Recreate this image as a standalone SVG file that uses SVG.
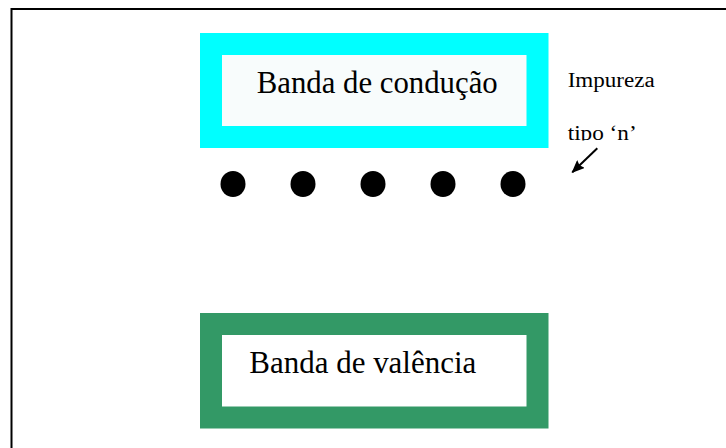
<svg xmlns="http://www.w3.org/2000/svg" width="726" height="448" viewBox="0 0 726 448">
<style>
text{font-family:"Liberation Serif","Times New Roman",serif;fill:#000}
.band{font-size:31px}
.lbl{font-size:20px}
.dot{fill:#000}
</style>
<defs>
<marker id="ah" markerWidth="13" markerHeight="11" refX="12" refY="5.5" orient="auto" markerUnits="userSpaceOnUse">
<path d="M0,0 L13,5.5 L0,11 L2,5.5 z" fill="#000"/>
</marker>
<clipPath id="clipTipo"><rect x="560" y="110" width="100" height="30.5"/></clipPath>
</defs>
<rect width="726" height="448" fill="#fff"/>
<path d="M11.5,448 V9 H726" fill="none" stroke="#000" stroke-width="2"/>
<g id="conducao">
<rect x="211" y="44" width="326.5" height="93" fill="#f8fcfc" stroke="#00ffff" stroke-width="22"/>
<text class="band" x="256.7" y="93.3" textLength="241" lengthAdjust="spacingAndGlyphs">Banda de condução</text>
</g>
<g id="impurezas">
<ellipse class="dot" cx="233" cy="184" rx="12.5" ry="13"/>
<ellipse class="dot" cx="303" cy="184" rx="12.5" ry="13"/>
<ellipse class="dot" cx="373" cy="184" rx="12.5" ry="13"/>
<ellipse class="dot" cx="443" cy="184" rx="12.5" ry="13"/>
<ellipse class="dot" cx="513" cy="184" rx="12.5" ry="13"/>
</g>
<g id="valencia">
<rect x="211" y="324" width="326.5" height="93.5" fill="#fff" stroke="#339966" stroke-width="22"/>
<text class="band" x="249.3" y="373.3" textLength="227" lengthAdjust="spacingAndGlyphs">Banda de valência</text>
</g>
<g id="rotulo">
<text class="lbl" x="567.7" y="86.7" textLength="87" lengthAdjust="spacingAndGlyphs">Impureza</text>
<text class="lbl" x="567.7" y="140" textLength="69" lengthAdjust="spacingAndGlyphs" clip-path="url(#clipTipo)">tipo ‘n’</text>
</g>
<g id="conectores">
<line x1="597.3" y1="148.3" x2="572.3" y2="172.3" stroke="#000" stroke-width="2" marker-end="url(#ah)"/>
</g>
</svg>
